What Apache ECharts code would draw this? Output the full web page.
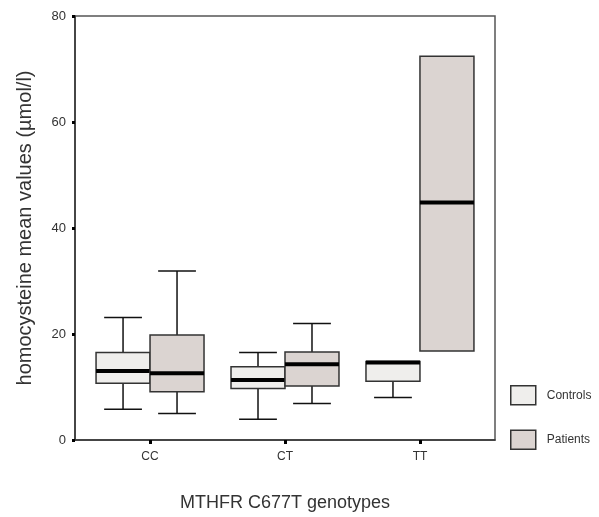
<!DOCTYPE html>
<html>
<head>
<meta charset="utf-8">
<script src="https://cdn.jsdelivr.net/npm/echarts@6/dist/echarts.min.js"></script>
<style>
  html, body { margin: 0; padding: 0; background: #fff; }
  #main { width: 599px; height: 517px; }
</style>
</head>
<body>
<div id="main"></div>
<script>
var dom = document.getElementById("main");
var myChart = echarts.init(dom);

// genotype groups on the x axis
var genotypes = ['CC', 'CT', 'TT'];
// [min, q1, median, q3, max] per genotype
var controls = [
    [5.8, 10.7, 13.0, 16.5, 23.1],
    [3.9, 9.7, 11.3, 13.8, 16.5],
    [8.0, 11.1, 14.6, 14.8, 14.8]
];
var patients = [
    [5.0, 9.1, 12.6, 19.8, 31.9],
    [6.9, 10.2, 14.3, 16.6, 22.0],
    [16.8, 16.8, 44.8, 72.4, 72.4]
];
var yTicks = [0, 20, 40, 60, 80];

var controlColor = '#efeeec';
var patientColor = '#dbd4d1';
var edgeColor = '#333';

function toRows(list) {
    return list.map(function (r, i) { return [i].concat(r); });
}

// box drawn with offset (in category units) from the genotype position
function boxRenderer(offset, fill) {
    return function (params, api) {
        var x = api.value(0);
        var unit = api.size([1, 0])[0];
        var half = unit * 0.2;
        var cap = unit * 0.14;
        var cx = api.coord([x, 0])[0] + offset * unit;
        var yMin = api.coord([x, api.value(1)])[1];
        var yQ1 = api.coord([x, api.value(2)])[1];
        var yMed = api.coord([x, api.value(3)])[1];
        var yQ3 = api.coord([x, api.value(4)])[1];
        var yMax = api.coord([x, api.value(5)])[1];
        var line = { stroke: '#111', lineWidth: 1.5 };
        var kids = [];
        if (Math.abs(yMin - yQ1) > 1) {
            kids.push({ type: 'line', shape: { x1: cx, y1: yQ1, x2: cx, y2: yMin }, style: line });
            kids.push({ type: 'line', shape: { x1: cx - cap, y1: yMin, x2: cx + cap, y2: yMin }, style: line });
        }
        if (Math.abs(yMax - yQ3) > 1) {
            kids.push({ type: 'line', shape: { x1: cx, y1: yQ3, x2: cx, y2: yMax }, style: line });
            kids.push({ type: 'line', shape: { x1: cx - cap, y1: yMax, x2: cx + cap, y2: yMax }, style: line });
        }
        kids.push({
            type: 'rect',
            shape: { x: cx - half, y: yQ3, width: half * 2, height: yQ1 - yQ3 },
            style: { fill: fill, stroke: edgeColor, lineWidth: 1.5 }
        });
        kids.push({
            type: 'line',
            shape: { x1: cx - half, y1: yMed, x2: cx + half, y2: yMed },
            style: { stroke: '#000', lineWidth: 4 }
        });
        return { type: 'group', children: kids };
    };
}

var option = {
    backgroundColor: '#fff',
    animation: false,
    grid: {
        left: 75, right: 104, top: 16, bottom: 75,
        show: true, borderColor: '#555', borderWidth: 1.5
    },
    legend: {
        orient: 'vertical',
        left: 505,
        top: 380,
        itemWidth: 25,
        itemHeight: 19,
        itemGap: 24,
        textStyle: { fontFamily: 'Liberation Sans', fontSize: 12, color: '#333', padding: [0, 0, 0, 6] },
        data: [
            { name: 'Controls', icon: 'rect', itemStyle: { color: controlColor, borderColor: edgeColor, borderWidth: 1.5 } },
            { name: 'Patients', icon: 'rect', itemStyle: { color: patientColor, borderColor: edgeColor, borderWidth: 1.5 } }
        ]
    },
    xAxis: {
        type: 'value',
        min: -0.556,
        max: 2.556,
        name: 'MTHFR C677T genotypes',
        nameLocation: 'middle',
        nameGap: 54,
        nameTextStyle: { fontFamily: 'Liberation Sans', fontSize: 18, color: '#333' },
        axisLine: { show: true, onZero: false, lineStyle: { color: '#333', width: 1.5 } },
        axisTick: { show: true, customValues: [0, 1, 2], length: 4, lineStyle: { color: '#000', width: 3 } },
        axisLabel: {
            customValues: [0, 1, 2],
            margin: 11,
            fontFamily: 'Liberation Sans', fontSize: 12, color: '#333',
            formatter: function (v) { return genotypes[Math.round(v)]; }
        },
        splitLine: { show: false }
    },
    yAxis: {
        type: 'value',
        min: yTicks[0],
        max: yTicks[yTicks.length - 1],
        interval: 20,
        name: 'homocysteine mean values (µmol/l)',
        nameLocation: 'middle',
        nameGap: 40,
        nameTextStyle: { fontFamily: 'Liberation Sans', fontSize: 20, color: '#333' },
        axisLine: { show: true, onZero: false, lineStyle: { color: '#333', width: 1.5 } },
        axisTick: { show: true, length: 3, lineStyle: { color: '#000', width: 3 } },
        axisLabel: { margin: 9, fontFamily: 'Liberation Sans', fontSize: 13, color: '#333' },
        splitLine: { show: false }
    },
    series: [
        {
            name: 'Controls',
            type: 'custom',
            renderItem: boxRenderer(-0.2, controlColor),
            itemStyle: { color: controlColor },
            encode: { x: 0, y: [1, 2, 3, 4, 5] },
            data: toRows(controls)
        },
        {
            name: 'Patients',
            type: 'custom',
            renderItem: boxRenderer(0.2, patientColor),
            itemStyle: { color: patientColor },
            encode: { x: 0, y: [1, 2, 3, 4, 5] },
            data: toRows(patients)
        }
    ]
};
if (option && typeof option === "object") {
    myChart.setOption(option, true);
}
window.addEventListener("resize", function () {
    myChart.resize();
});
</script>
</body>
</html>
